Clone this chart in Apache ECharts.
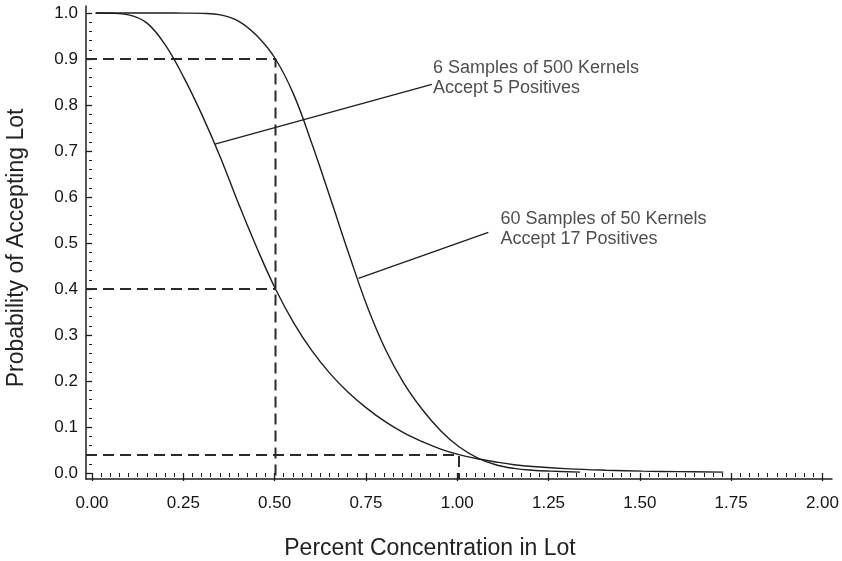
<!DOCTYPE html>
<html>
<head>
<meta charset="utf-8">
<title>Operating characteristic curves</title>
<script src="https://cdn.jsdelivr.net/npm/echarts@6/dist/echarts.min.js"></script>
<style>
  html, body { margin: 0; padding: 0; background: #fff; }
  #chart { width: 842px; height: 561px; }
</style>
</head>
<body>
<div id="chart"></div>
<script>
// Plan A: 6 samples of 500 kernels, lot accepted with up to 5 positive samples
const concentrationA = [0.01, 0.05, 0.10, 0.15, 0.20, 0.25, 0.30, 0.35, 0.40, 0.45, 0.50,
  0.55, 0.60, 0.65, 0.70, 0.75, 0.80, 0.85, 0.90, 0.95, 1.00, 1.05, 1.10, 1.15, 1.20,
  1.30, 1.40, 1.50, 1.60, 1.72];
const acceptA = [1.000, 0.9995, 0.996, 0.978, 0.930, 0.860, 0.778, 0.686, 0.584, 0.488, 0.400,
  0.326, 0.265, 0.215, 0.174, 0.140, 0.111, 0.087, 0.068, 0.052, 0.040, 0.031, 0.024, 0.018, 0.014,
  0.009, 0.006, 0.004, 0.003, 0.002];

// Plan B: 60 samples of 50 kernels, lot accepted with up to 17 positive samples
const concentrationB = [0.01, 0.10, 0.20, 0.25, 0.30, 0.35, 0.40, 0.45, 0.50, 0.55, 0.60, 0.65,
  0.70, 0.75, 0.80, 0.85, 0.90, 0.95, 1.00, 1.05, 1.10, 1.15, 1.20, 1.25, 1.33];
const acceptB = [1.000, 1.000, 1.000, 0.9998, 0.9992, 0.996, 0.982, 0.950, 0.900, 0.822, 0.714, 0.596,
  0.476, 0.362, 0.268, 0.195, 0.138, 0.092, 0.057, 0.033, 0.018, 0.010, 0.006, 0.004, 0.002];

// Reference readings marked with dashed guides
const guideConcentrations = [0.5, 1.0];
const guideProbabilities = [0.9, 0.4, 0.039];

// Callout labels and their leader lines (curve point -> text anchor)
const labelA = ['6 Samples of 500 Kernels', 'Accept 5 Positives'];
const labelB = ['60 Samples of 50 Kernels', 'Accept 17 Positives'];
const leaderA = [[0.335, 0.715], [0.926, 0.845]];
const leaderB = [[0.726, 0.423], [1.080, 0.523]];

// Axis tick values
const xTicks = [0, 0.25, 0.5, 0.75, 1.0, 1.25, 1.5, 1.75, 2.0];
const yTicks = [0, 0.1, 0.2, 0.3, 0.4, 0.5, 0.6, 0.7, 0.8, 0.9, 1.0];

// Frame axes run a few pixels past the tick range
const X_MIN = -6 / 367, X_MAX = 2 + 6 / 367;
const Y_MIN = -6 / 460, Y_MAX = 1 + 7 / 460;

const INK = '#1e1e1e';
const FONT = 'Liberation Sans, Arial, sans-serif';

const pairs = (xs, ys) => xs.map((x, i) => [x, ys[i]]);

const guideLines = [
  [[X_MIN, guideProbabilities[0]], [guideConcentrations[0], guideProbabilities[0]], [guideConcentrations[0], Y_MIN]],
  [[X_MIN, guideProbabilities[1]], [guideConcentrations[0], guideProbabilities[1]]],
  [[X_MIN, guideProbabilities[2]], [guideConcentrations[1], guideProbabilities[2]], [guideConcentrations[1], Y_MIN]]
];

const chart = echarts.init(document.getElementById('chart'), null, { renderer: 'canvas' });

const curve = (name, data) => ({
  name, type: 'line', xAxisIndex: 1, yAxisIndex: 1, data,
  showSymbol: false, symbol: 'none', smooth: 0.4,
  lineStyle: { color: INK, width: 1.4 }, z: 5, silent: true
});

const dashed = (data) => ({
  type: 'line', xAxisIndex: 1, yAxisIndex: 1, data,
  symbol: 'none', clip: false,
  lineStyle: { color: '#2a2a2a', width: 2, type: [11, 6] }, z: 3, silent: true
});

const leader = (data) => ({
  type: 'line', xAxisIndex: 1, yAxisIndex: 1, data,
  symbol: 'none', lineStyle: { color: INK, width: 1.3 }, z: 4, silent: true
});

const callout = (point, lines, distance, dy) => ({
  type: 'scatter', xAxisIndex: 1, yAxisIndex: 1,
  data: [point], symbolSize: 0.1, itemStyle: { color: 'rgba(0,0,0,0)' }, silent: true,
  label: {
    show: true, position: 'right', distance, offset: [0, dy],
    formatter: lines.join('\n'),
    fontFamily: FONT, fontSize: 18, lineHeight: 20, color: '#222', align: 'left'
  }, z: 6
});

const option = {
  animation: false,
  backgroundColor: '#fff',
  grid: [
    { left: 92, right: 16, top: 13, bottom: 88 },
    { left: 86, right: 10, top: 6, bottom: 82 }
  ],
  xAxis: [
    {
      gridIndex: 0, type: 'value', min: xTicks[0], max: xTicks[xTicks.length - 1],
      interval: xTicks[1] - xTicks[0], offset: 6,
      axisLine: { show: false },
      axisTick: { show: true, length: 8, lineStyle: { color: INK, width: 1.3 } },
      minorTick: { show: true, splitNumber: 10, length: 4, lineStyle: { color: INK, width: 1 } },
      axisLabel: { margin: 16, fontFamily: FONT, fontSize: 17, color: '#141414', formatter: v => v.toFixed(2) },
      splitLine: { show: false }, minorSplitLine: { show: false }
    },
    {
      gridIndex: 1, type: 'value', min: X_MIN, max: X_MAX,
      axisLine: { show: true, onZero: false, lineStyle: { color: INK, width: 1.5 } },
      axisTick: { show: false }, axisLabel: { show: false }, splitLine: { show: false }
    }
  ],
  yAxis: [
    {
      gridIndex: 0, type: 'value', min: yTicks[0], max: yTicks[yTicks.length - 1],
      interval: yTicks[1] - yTicks[0], offset: 6,
      axisLine: { show: false },
      axisTick: { show: true, length: 6, lineStyle: { color: INK, width: 1.3 } },
      minorTick: { show: true, splitNumber: 5, length: 3, lineStyle: { color: INK, width: 1 } },
      axisLabel: { margin: 8, fontFamily: FONT, fontSize: 17, color: '#141414', formatter: v => v.toFixed(1) },
      splitLine: { show: false }, minorSplitLine: { show: false }
    },
    {
      gridIndex: 1, type: 'value', min: Y_MIN, max: Y_MAX,
      axisLine: { show: true, onZero: false, lineStyle: { color: INK, width: 1.5 } },
      axisTick: { show: false }, axisLabel: { show: false }, splitLine: { show: false }
    }
  ],
  graphic: [
    {
      type: 'text', x: 430, y: 549,
      style: { text: 'Percent Concentration in Lot', fontFamily: FONT, fontSize: 23, fill: '#222',
        align: 'center', verticalAlign: 'middle' }
    },
    {
      type: 'text', x: 17, y: 248, rotation: Math.PI / 2,
      style: { text: 'Probability of Accepting Lot', fontFamily: FONT, fontSize: 23, fill: '#222',
        align: 'center', verticalAlign: 'middle' }
    }
  ],
  series: [
    ...guideLines.map(dashed),
    curve('6 Samples of 500 Kernels', pairs(concentrationA, acceptA)),
    curve('60 Samples of 50 Kernels', pairs(concentrationB, acceptB)),
    leader(leaderA),
    leader(leaderB),
    callout(leaderA[1], labelA, 1, -6),
    callout(leaderB[1], labelB, 12, -3)
  ]
};

chart.setOption(option);
</script>
</body>
</html>
